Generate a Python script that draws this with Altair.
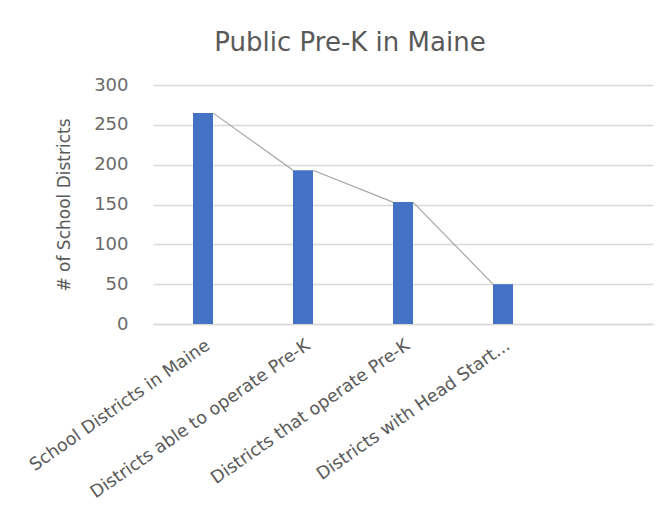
import altair as alt
import pandas as pd

categories = [
    "School Districts in Maine",
    "Districts able to operate Pre-K",
    "Districts that operate Pre-K",
    "Districts with Head Start...",
]
values = [265, 193, 153, 50]
empty_slot = " "
y_ticks = [0, 50, 100, 150, 200, 250, 300]

domain = categories + [empty_slot]

bars = pd.DataFrame({"category": categories, "value": values})
segs = pd.DataFrame({
    "c1": categories[:-1],
    "c2": categories[1:],
    "v1": values[:-1],
    "v2": values[1:],
})

TXT = "#595959"
GRID = "#D9D9D9"
FONT = "DejaVu Sans"

xscale = alt.Scale(domain=domain, paddingInner=0.8, paddingOuter=0.4)
yscale = alt.Scale(domain=[0, 300])

xaxis = alt.Axis(labelAngle=-35, labelAlign="right", labelBaseline="top",
                 labelPadding=12, labelFontSize=17.5, labelColor=TXT,
                 labelFont=FONT, ticks=False, domainColor=GRID,
                 domainWidth=1.5, labelLimit=400, grid=False,
                 labelOverlap=False)
yaxis = alt.Axis(values=y_ticks, ticks=False, labelOverlap=False,
                 domain=False, labelPadding=25, labelFontSize=18,
                 labelColor="#6b6b6b", labelFont=FONT, titleFont=FONT,
                 titleFontSize=17, titleFontWeight="normal",
                 titleColor=TXT, titlePadding=20, gridColor=GRID,
                 gridWidth=1.5)

bar = alt.Chart(bars).mark_bar(color="#4472C4").encode(
    x=alt.X("category:N", scale=xscale, sort=domain, title=None, axis=xaxis),
    y=alt.Y("value:Q", scale=yscale, title="# of School Districts", axis=yaxis),
)

lines = alt.Chart(segs).mark_rule(color="#A6A6A6", strokeWidth=1.2,
                                  xOffset=10, x2Offset=-10).encode(
    x=alt.X("c1:N", scale=xscale, sort=domain, title=None, axis=xaxis),
    x2="c2:N",
    y=alt.Y("v1:Q", scale=yscale, title="# of School Districts", axis=yaxis),
    y2="v2:Q",
)

chart = alt.layer(bar, lines).properties(
    width=500,
    height=239,
    title=alt.TitleParams("Public Pre-K in Maine", fontSize=26, font=FONT,
                          fontWeight="normal", color=TXT, dx=-53, offset=20),
    autosize=alt.AutoSizeParams(type="none"),
    padding={"left": 145, "top": 77, "right": 10, "bottom": 190},
).configure(background="white").configure_view(stroke=None)

chart.save("out.html", embed_options={"renderer": "svg", "actions": False})
